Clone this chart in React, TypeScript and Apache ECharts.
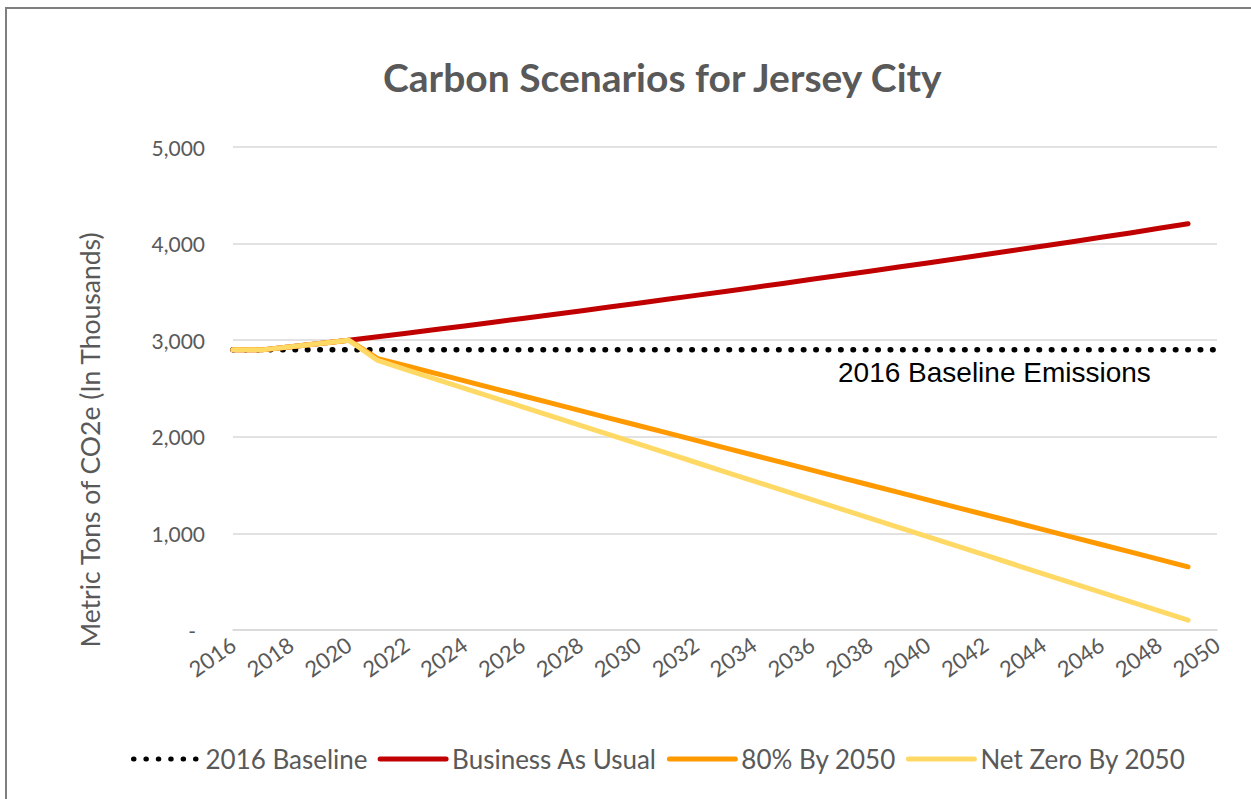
import React, { useEffect, useRef } from "react";
import * as echarts from "echarts";

const years = [
  "2016", "2017", "2018", "2019", "2020", "2021", "2022", "2023", "2024", "2025",
  "2026", "2027", "2028", "2029", "2030", "2031", "2032", "2033", "2034", "2035",
  "2036", "2037", "2038", "2039", "2040", "2041", "2042", "2043", "2044", "2045",
  "2046", "2047", "2048", "2049", "2050",
];

const baseline = [
  2900, 2900, 2900, 2900, 2900, 2900, 2900, 2900, 2900, 2900,
  2900, 2900, 2900, 2900, 2900, 2900, 2900, 2900, 2900, 2900,
  2900, 2900, 2900, 2900, 2900, 2900, 2900, 2900, 2900, 2900,
  2900, 2900, 2900, 2900, 2900,
];

const businessAsUsual = [
  2900, 2900, 2933, 2966, 3000, 3036, 3073, 3110, 3148, 3186,
  3225, 3264, 3303, 3343, 3383, 3423, 3464, 3505, 3546, 3588,
  3630, 3672, 3714, 3757, 3800, 3843, 3887, 3931, 3975, 4020,
  4065, 4110, 4158, 4205, null,
];

const eightyBy2050 = [
  2900, 2900, 2933, 2966, 3000, 2810, 2733, 2656, 2579, 2502,
  2425, 2348, 2271, 2194, 2117, 2040, 1963, 1886, 1809, 1732,
  1655, 1578, 1501, 1424, 1347, 1270, 1193, 1116, 1039, 962,
  885, 808, 731, 654, null,
];

const netZeroBy2050 = [
  2900, 2900, 2933, 2966, 3000, 2790, 2694, 2598, 2502, 2406,
  2310, 2214, 2118, 2022, 1926, 1830, 1734, 1638, 1542, 1446,
  1350, 1254, 1158, 1062, 966, 870, 774, 678, 582, 486,
  390, 294, 198, 102, null,
];

const seriesNames = ["2016 Baseline", "Business As Usual", "80% By 2050", "Net Zero By 2050"];
const seriesColors = ["#000000", "#C00000", "#FF9900", "#FFD966"];

export default function App() {
  const ref = useRef<HTMLDivElement>(null);

  useEffect(() => {
    if (!ref.current) return;
    const chart = echarts.init(ref.current, null, { renderer: "svg" });
    const textColor = "#595959";
    const font = "Lato, 'Open Sans', sans-serif";
    const lineSeries = (name: string, data: (number | null)[], color: string, extra: any = {}) => ({
      name,
      type: "line",
      data,
      symbol: "none",
      showSymbol: false,
      connectNulls: false,
      lineStyle: { color, width: 5, cap: "round", join: "round", ...(extra.lineStyle || {}) },
      itemStyle: { color },
      z: extra.z ?? 2,
    });

    chart.setOption({
      animation: false,
      backgroundColor: "#ffffff",
      title: {
        text: "Carbon Scenarios for Jersey City",
        left: 378,
        top: 52,
        textStyle: { fontFamily: font, fontWeight: "bold", fontSize: 39, color: textColor },
      },
      grid: { left: 233, right: 34, top: 147, bottom: 169, containLabel: false },
      xAxis: {
        type: "category",
        data: years,
        boundaryGap: false,
        axisLine: { show: true, lineStyle: { color: "#D9D9D9", width: 1.5 } },
        axisTick: { show: false },
        axisLabel: {
          interval: 1,
          rotate: 35,
          margin: 12,
          color: textColor,
          fontFamily: font,
          fontSize: 22,
        },
        splitLine: { show: false },
      },
      yAxis: {
        type: "value",
        min: 0,
        max: 5000,
        interval: 1000,
        axisLine: { show: false },
        axisTick: { show: false },
        splitLine: { lineStyle: { color: "#D9D9D9", width: 1.5 } },
        axisLabel: {
          margin: 28,
          color: textColor,
          fontFamily: font,
          fontSize: 21,
          formatter: (v: number) => (v === 0 ? "{z|-}" : v.toLocaleString("en-US")),
          rich: { z: { padding: [0, 9, 0, 0], color: textColor, fontFamily: font, fontSize: 21 } },
        },
      },
      legend: {
        bottom: 22,
        left: 126,
        itemWidth: 66,
        itemHeight: 12,
        itemGap: 10,
        itemStyle: { opacity: 0 },
        lineStyle: { width: 5, cap: "round" },
        textStyle: { fontFamily: font, fontSize: 26, color: textColor, padding: [0, 0, 0, 1] },
        data: seriesNames,
      },
      graphic: [
        {
          type: "rect",
          silent: true,
          shape: { x: 6, y: 8, width: 1400, height: 1000 },
          style: { fill: "none", stroke: "#7F7F7F", lineWidth: 2 },
        },
        {
          type: "text",
          silent: true,
          rotation: Math.PI / 2,
          x: 90,
          y: 440,
          style: {
            text: "Metric Tons of CO2e (In Thousands)",
            fontFamily: font,
            fontSize: 26.5,
            fill: textColor,
            textAlign: "center",
            textVerticalAlign: "middle",
          },
        },
        {
          type: "text",
          silent: true,
          x: 838,
          y: 372,
          style: {
            text: "2016 Baseline Emissions",
            fontFamily: "'Liberation Sans', Arial, sans-serif",
            fontSize: 28,
            fill: "#000000",
            textAlign: "left",
            textVerticalAlign: "middle",
          },
        },
      ],
      series: [
        lineSeries(seriesNames[0], baseline, seriesColors[0], {
          lineStyle: { width: 5.5, type: [0.5, 11.9], cap: "round" },
          z: 1,
        }),
        lineSeries(seriesNames[1], businessAsUsual, seriesColors[1], { z: 2 }),
        lineSeries(seriesNames[2], eightyBy2050, seriesColors[2], { z: 3 }),
        lineSeries(seriesNames[3], netZeroBy2050, seriesColors[3], { z: 4 }),
      ],
    });
    return () => chart.dispose();
  }, []);

  return (
    <div
      ref={ref}
      style={{ position: "fixed", left: 0, top: 0, width: 1251, height: 799, background: "#fff" }}
    />
  );
}
